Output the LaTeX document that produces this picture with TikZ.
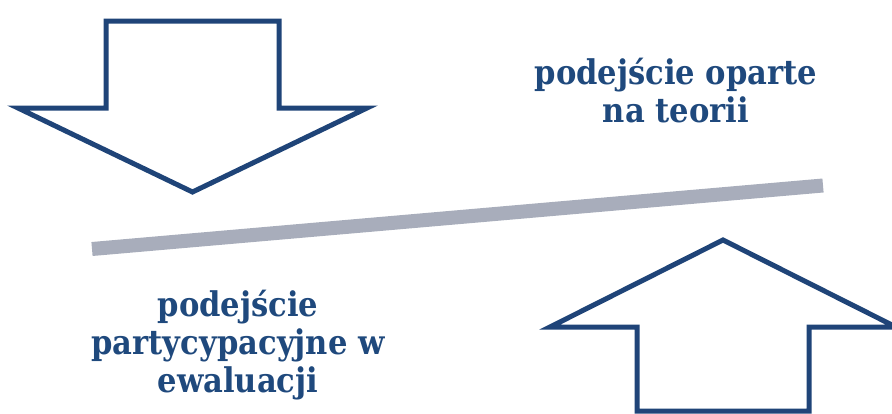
\documentclass[tikz,border=0pt]{standalone}
\usepackage{fontspec}
\setmainfont{DejaVu Serif Condensed}
\definecolor{navy}{HTML}{1F4478}
\definecolor{txtblue}{HTML}{1F497D}
\definecolor{bargray}{HTML}{A8ADBB}
\tikzset{
  bigarrow/.style={draw=navy, line width=5pt, fill=white, miter limit=10},
  label/.style={text=txtblue, font=\bfseries\fontsize{34}{38}\selectfont, align=center, inner sep=0pt},
  bar/.style={draw=bargray, line width=14pt}
}
\begin{document}
\begin{tikzpicture}[x=1pt,y=-1pt]
\useasboundingbox (0,0) rectangle (892,413);
\clip (0,0) rectangle (892,413);
% down arrow
\draw[bigarrow] (106,21) -- (279,21) -- (279,108) -- (367,108) -- (192.5,192) -- (18,108) -- (106,108) -- cycle;
% up arrow
\draw[bigarrow] (723,240) -- (896,327) -- (809,327) -- (809,411) -- (637,411) -- (637,327) -- (550,327) -- cycle;
% bar
\coordinate (barL) at (92,249);
\coordinate (barR) at (823,185.5);
\draw[bar] (barL) -- (barR);
% texts
\node[label, anchor=base] (t1) at (676,122) {podejście oparte\\na teorii};
\node[label, anchor=base] (t2) at (238,392) {podejście\\partycypacyjne w\\ewaluacji};
\end{tikzpicture}
\end{document}
